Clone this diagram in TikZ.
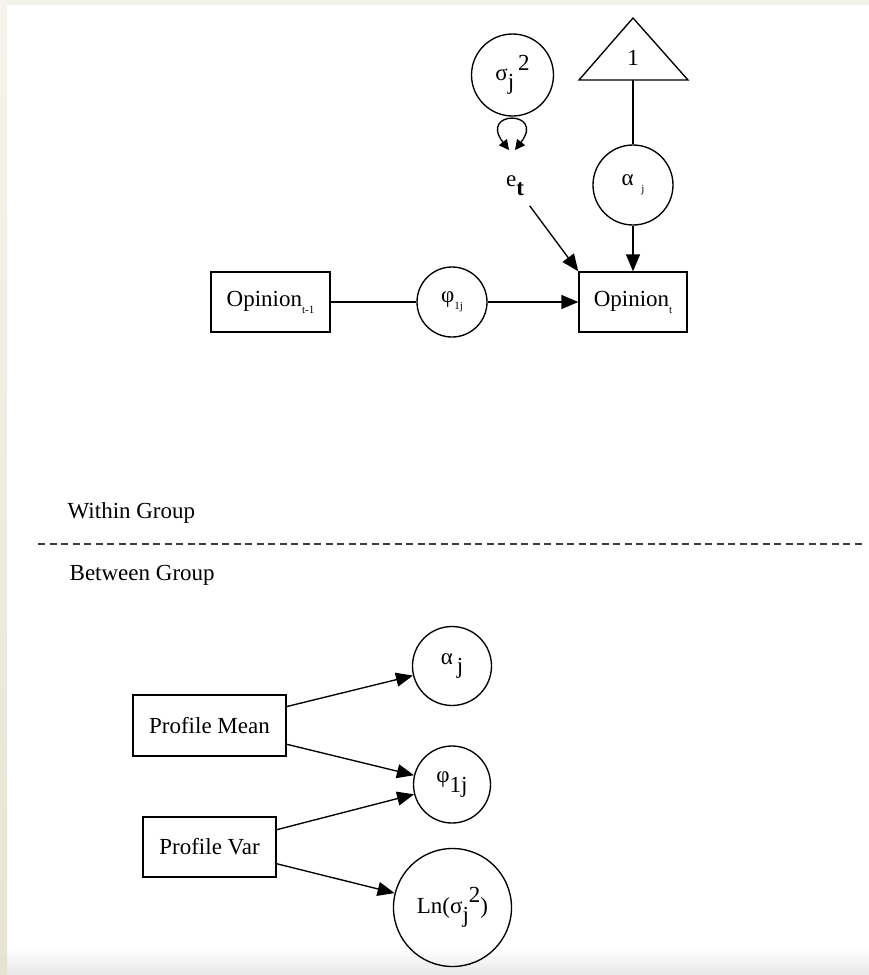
\documentclass[tikz,border=0pt]{standalone}
\usepackage{fontspec}
\setmainfont{Liberation Serif}
\usetikzlibrary{arrows.meta,shapes.geometric}
\definecolor{stripTop}{RGB}{245,244,236}
\definecolor{stripBot}{RGB}{230,228,209}
\definecolor{topband}{RGB}{244,243,235}
\definecolor{dashgray}{RGB}{60,60,60}
\newcommand{\lowt}[1]{\raisebox{-0.3em}{\fontsize{11}{11}\selectfont #1}}
\newcommand{\lowbig}[1]{\raisebox{-0.4em}{#1}}
\newcommand{\highbig}[1]{\raisebox{0.45em}{#1}}
\begin{document}
\begin{tikzpicture}[x=1pt,y=-1pt,line width=1.35pt,
  font=\fontsize{23}{27}\selectfont,
  box/.style={draw,rectangle,inner sep=0pt},
  circ/.style={draw,circle,inner sep=0pt},
  arr/.style={-{Triangle[length=17pt,width=14pt]}},
  looparr/.style={{Triangle[length=10pt,width=10pt]}-{Triangle[length=10pt,width=10pt]}},
  lbl/.style={inner sep=0pt}]
% background
\path[use as bounding box] (0,0) rectangle (869,975);
\fill[white] (0,0) rectangle (869,975);
\fill[topband] (0,0) rectangle (869,5);
\shade[top color=white,bottom color=black!9] (7,948) rectangle (869,975);
\shade[top color=stripTop,bottom color=stripBot] (0,0) rectangle (7,975);

% within group
\node[circ,minimum size=82pt] (sig) at (512.5,75) {σ\lowbig{j}\,\highbig{2}};
\draw (633,18) -- (688,80) -- (579,80) -- cycle;
\node[lbl] (one) at (633,58) {1};
\coordinate (tri) at (633,80);
\node[circ,minimum size=80pt] (atop) at (633,185) {α\,\,\lowt{j}};
\node[lbl,inner sep=9pt] (et) at (515,186) {e\lowbig{\textbf{t}}};
\draw[looparr] (509,150) .. controls (478,110) and (546,110) .. (515,150);
\node[box,minimum width=119pt,minimum height=60pt] (opt1) at (270.5,302) {Opinion\lowt{t-1}};
\node[circ,minimum size=70pt] (phitop) at (452,302) {φ\lowt{1j}};
\node[box,minimum width=108pt,minimum height=60pt] (optt) at (633,302) {Opinion\lowt{t}};
\draw (tri) -- (atop);
\draw[arr] (atop) -- (optt);
\draw[arr] (et) -- (optt.north west);
\draw (opt1) -- (phitop);
\draw[arr] (phitop) -- (optt);

% separator
\node[lbl,anchor=west] (within) at (67,513) {Within Group};
\coordinate (dl) at (38,544);
\coordinate (dr) at (866,544);
\draw[dashgray,line width=1.6pt,dash pattern=on 7pt off 4.5pt] (dl) -- (dr);
\node[lbl,anchor=west] (between) at (69,575) {Between Group};

% between group
\node[box,minimum width=153pt,minimum height=61pt] (pm) at (209.5,725.5) {Profile Mean};
\node[box,minimum width=133pt,minimum height=60pt] (pv) at (209.5,847) {Profile Var};
\node[circ,minimum size=79pt] (ab) at (452,666) {α\,\lowbig{j}};
\node[circ,minimum size=77pt] (pb) at (452,784.5) {φ\lowbig{1j}};
\node[circ,minimum size=118pt] (lb) at (452.5,907.5) {Ln(σ\lowbig{j}\highbig{2})};
\draw[arr] (pm) -- (ab);
\draw[arr] (pm) -- (pb);
\draw[arr] (pv) -- (pb);
\draw[arr] (pv) -- (lb);
\end{tikzpicture}
\end{document}
